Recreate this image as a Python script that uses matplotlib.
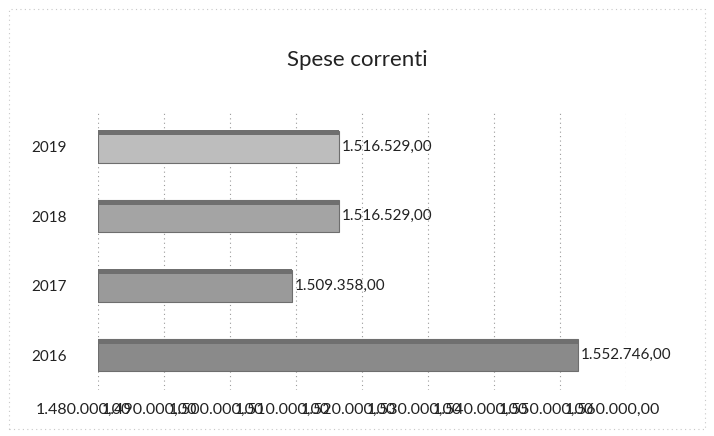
import matplotlib
matplotlib.use("Agg")
import matplotlib.pyplot as plt
from matplotlib.patches import Rectangle
import matplotlib.transforms as mtransforms

years = ["2016", "2017", "2018", "2019"]
values = [1552746.00, 1509358.00, 1516529.00, 1516529.00]
ticks = [1480000, 1490000, 1500000, 1510000, 1520000, 1530000, 1540000, 1550000, 1560000]
title = "Spese correnti"
bar_colors = ["#8a8a8a", "#9a9a9a", "#a4a4a4", "#bdbdbd"]


def it_fmt(v):
    s = f"{v:,.2f}"
    return s.replace(",", "X").replace(".", ",").replace("X", ".")


plt.rcParams['font.family'] = ['Lato', 'DejaVu Sans']

fig = plt.figure(figsize=(7.14, 4.36), dpi=100)
ax = fig.add_axes([0.137, 0.106, 0.740, 0.637])

base = ticks[0]
ypos = list(range(len(years)))
widths = [v - base for v in values]
ax.barh(ypos, widths, left=base, height=0.46, color=bar_colors,
        edgecolor="#6e6e6e", linewidth=0.8, zorder=3)
# darker top face to mimic the 3D look
ax.barh([y + 0.2 for y in ypos], widths, left=base, height=0.07,
        color="#6f6f6f", linewidth=0, zorder=4)

for y, v in zip(ypos, values):
    ax.text(v + 400, y, it_fmt(v), va="center", ha="left", fontsize=11,
            color="#222222", zorder=5)

ax.set_xlim(ticks[0], ticks[-1])
ax.set_ylim(-0.5, len(years) - 0.5)
ax.set_xticks(ticks)
ax.set_xticklabels([])
ax.set_yticks(ypos)
ax.set_yticklabels(years, fontsize=11, color="#222222")

# x tick labels, shifted left like the 3D chart's floor labels
offset = mtransforms.ScaledTranslation(-14 / 100, -20 / 100, fig.dpi_scale_trans)
trans = ax.get_xaxis_transform() + offset
for t in ticks:
    ax.text(t, 0, it_fmt(t), transform=trans, ha="center", va="center",
            fontsize=11.5, color="#222222", clip_on=False)

ax.tick_params(axis="x", length=0)
ax.tick_params(axis="y", length=0, pad=22)
ax.xaxis.grid(True, linestyle=(0, (1, 3)), color="#9a9a9a", linewidth=0.8, zorder=0)
for s in ax.spines.values():
    s.set_visible(False)

fig.text(0.5, 0.862, title, ha="center", va="center", fontsize=16, color="#222222")

fig.patches.append(Rectangle((0.012, 0.015), 0.976, 0.965, transform=fig.transFigure,
                             fill=False, edgecolor="#c8c8c8", linestyle=(0, (1, 3)),
                             linewidth=0.8))

fig.savefig("out.png", dpi=100)
